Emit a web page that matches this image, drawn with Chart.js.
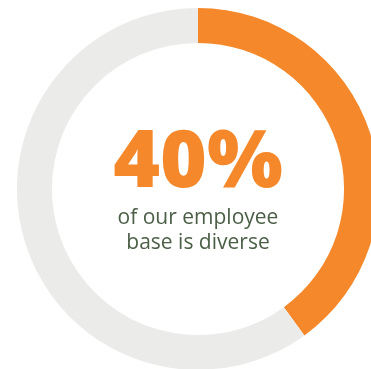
<!DOCTYPE html>
<html>
<head>
<meta charset="utf-8">
<script src="https://cdn.jsdelivr.net/npm/chart.js@4"></script>
<style>
  html, body { margin: 0; padding: 0; background: #fff; overflow: hidden; width: 371px; height: 369px; }
  #wrap { position: absolute; left: 17px; top: 8px; width: 362px; height: 362px; }
</style>
</head>
<body>
<div id="wrap"><canvas id="chart"></canvas></div>
<script>
const labels = ['Diverse', 'Other'];
const values = [40, 60];
const colors = ['#F5882A', '#EBECEA'];
const bigText = '40%';
const subLines = ['of our employee', 'base is diverse'];

// center text drawn on the canvas
const centerText = {
  id: 'centerText',
  afterDraw(c) {
    const meta = c.getDatasetMeta(0).data[0];
    const x = meta.x, y = meta.y;
    const ctx = c.ctx;
    ctx.save();
    ctx.textAlign = 'center';
    ctx.textBaseline = 'alphabetic';
    ctx.fillStyle = '#F5882A';
    ctx.font = '800 80px "Open Sans"';
    ctx.fillText(bigText, x, y - 2);
    ctx.fillStyle = '#4B5F47';
    ctx.font = '21px "Open Sans"';
    ctx.fillText(subLines[0], x, y + 35);
    ctx.fillText(subLines[1], x, y + 60);
    ctx.restore();
  }
};

new Chart(document.querySelector('#chart').getContext('2d'), {
  type: 'doughnut',
  data: {
    labels: labels,
    datasets: [{
      data: values,
      backgroundColor: colors,
      borderWidth: 0
    }]
  },
  options: {
    responsive: true,
    maintainAspectRatio: false,
    animation: false,
    cutout: '80.7%',
    layout: { padding: 0 },
    plugins: {
      legend: { display: false },
      tooltip: { enabled: false }
    }
  },
  plugins: [centerText]
});
</script>
</body>
</html>
